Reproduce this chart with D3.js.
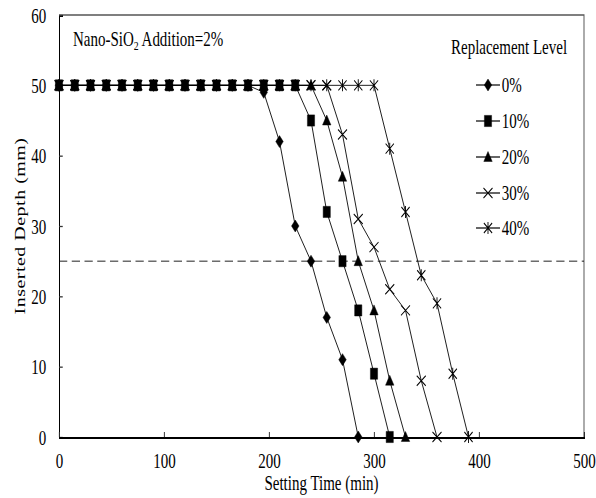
<!DOCTYPE html>
<html>
<head>
<meta charset="utf-8">
<script src="https://cdn.jsdelivr.net/npm/d3@7"></script>
<style>
  body { margin: 0; background: #fff; }
  text { font-family: "Liberation Serif", "Times New Roman", serif; fill: #000; }
</style>
</head>
<body>
<svg id="chart"></svg>
<script>
// Data (setting time in min, inserted depth in mm)
const levels = ["0%", "10%", "20%", "30%", "40%"];
const markers = ["diamond", "square", "triangle", "cross", "asterisk"];

const time0 = [0, 15, 30, 45, 60, 75, 90, 105, 120, 135, 150, 165, 180, 195, 210, 225, 240, 255, 270, 285];
const depth0 = [50, 50, 50, 50, 50, 50, 50, 50, 50, 50, 50, 50, 50, 49, 42, 30, 25, 17, 11, 0];

const time10 = [0, 15, 30, 45, 60, 75, 90, 105, 120, 135, 150, 165, 180, 195, 210, 225, 240, 255, 270, 285, 300, 315];
const depth10 = [50, 50, 50, 50, 50, 50, 50, 50, 50, 50, 50, 50, 50, 50, 50, 50, 45, 32, 25, 18, 9, 0];

const time20 = [0, 15, 30, 45, 60, 75, 90, 105, 120, 135, 150, 165, 180, 195, 210, 225, 240, 255, 270, 285, 300, 315, 330];
const depth20 = [50, 50, 50, 50, 50, 50, 50, 50, 50, 50, 50, 50, 50, 50, 50, 50, 50, 45, 37, 25, 18, 8, 0];

const time30 = [0, 15, 30, 45, 60, 75, 90, 105, 120, 135, 150, 165, 180, 195, 210, 225, 240, 255, 270, 285, 300, 315, 330, 345, 360];
const depth30 = [50, 50, 50, 50, 50, 50, 50, 50, 50, 50, 50, 50, 50, 50, 50, 50, 50, 50, 43, 31, 27, 21, 18, 8, 0];

const time40 = [0, 15, 30, 45, 60, 75, 90, 105, 120, 135, 150, 165, 180, 195, 210, 225, 240, 255, 270, 285, 300, 315, 330, 345, 360, 375, 390];
const depth40 = [50, 50, 50, 50, 50, 50, 50, 50, 50, 50, 50, 50, 50, 50, 50, 50, 50, 50, 50, 50, 50, 41, 32, 23, 19, 9, 0];

const xTicks = [0, 100, 200, 300, 400, 500];
const yTicks = [0, 10, 20, 30, 40, 50, 60];
const threshold = 25;

const seriesTimes = [time0, time10, time20, time30, time40];
const seriesDepths = [depth0, depth10, depth20, depth30, depth40];

// the original figure is squeezed horizontally, so draw wide and scale x
const width = 596, height = 498;
const sx = 0.75;
const fs = 20;

const svg = d3.select("#chart")
  .attr("width", width)
  .attr("height", height);

const g = svg.append("g").attr("transform", `scale(${sx},1)`);

const x = d3.scaleLinear().domain([0, 500]).range([59 / sx, 584 / sx]);
const y = d3.scaleLinear().domain([0, 60]).range([437, 15]);

// marker shapes (in unscaled coordinates)
const shapes = {
  diamond: "M0,-6L5,0L0,6L-5,0Z",
  square: "M-4.8,-5.6H4.8V5.6H-4.8Z",
  triangle: "M0,-5.5L5.6,4.5H-5.6Z",
  cross: "M-6,-5L6,5M-6,5L6,-5",
  asterisk: "M-5.5,-5L5.5,5M-5.5,5L5.5,-5M0,-6V6"
};
function drawMarker(sel, type) {
  const filled = type === "diamond" || type === "square" || type === "triangle";
  sel.append("path")
    .attr("d", shapes[type])
    .attr("fill", filled ? "#000" : "none")
    .attr("stroke", "#000")
    .attr("stroke-width", filled ? 0.5 : 1.2);
}

// frame (top/right thin grey)
g.append("path")
  .attr("d", `M${x(0)},${y(60)}H${x(500)}V${y(0)}`)
  .attr("fill", "none")
  .attr("stroke", "#555")
  .attr("stroke-width", 1.3);

// axes
const yAxis = d3.axisLeft(y).tickValues(yTicks).tickSize(-5).tickPadding(17);
const gy = g.append("g").attr("transform", `translate(${x(0)},0)`).call(yAxis);
gy.select(".domain").attr("stroke", "#000").attr("stroke-width", 2);
gy.selectAll(".tick line").attr("stroke", "#333").attr("stroke-width", 1.3);
gy.selectAll(".tick text").attr("font-size", fs).attr("font-family", null).attr("dy", "0.35em");

const xAxis = d3.axisBottom(x).tickValues(xTicks).tickSize(-5).tickPadding(17);
const gx = g.append("g").attr("transform", `translate(0,${y(0)})`).call(xAxis);
gx.select(".domain").attr("stroke", "#000").attr("stroke-width", 2);
gx.selectAll(".tick line").attr("stroke", "#333").attr("stroke-width", 1.3);
gx.selectAll(".tick text").attr("font-size", fs).attr("font-family", null);
svg.selectAll(".domain").attr("shape-rendering", "crispEdges");

// axis titles
g.append("text")
  .attr("x", x(250)).attr("y", 490)
  .attr("text-anchor", "middle")
  .attr("font-size", fs)
  .text("Setting Time (min)");

g.append("text")
  .attr("transform", `translate(${25 / sx},${y(30)}) rotate(-90)`)
  .attr("text-anchor", "middle")
  .attr("font-size", fs)
  .attr("letter-spacing", 0.5)
  .text("Inserted Depth (mm)");

// reference line at 25 mm
g.append("line")
  .attr("x1", x(0)).attr("x2", x(500))
  .attr("y1", y(threshold)).attr("y2", y(threshold))
  .attr("stroke", "#000")
  .attr("stroke-width", 1)
  .attr("stroke-dasharray", "11,6");

// series
const line = d3.line().x(d => x(d[0])).y(d => y(d[1]));
levels.forEach((lv, i) => {
  const pts = seriesTimes[i].map((t, j) => [t, seriesDepths[i][j]]);
  g.append("path")
    .datum(pts)
    .attr("d", line)
    .attr("fill", "none")
    .attr("stroke", "#000")
    .attr("stroke-width", 1);
  g.append("g").selectAll("g")
    .data(pts)
    .enter().append("g")
    .attr("transform", d => `translate(${x(d[0])},${y(d[1])})`)
    .each(function() { drawMarker(d3.select(this), markers[i]); });
});

// annotation
const note = g.append("text")
  .attr("x", 73 / sx).attr("y", 46)
  .attr("font-size", fs);
note.append("tspan").text("Nano-SiO");
note.append("tspan").attr("dy", 4).attr("font-size", 13).text("2");
note.append("tspan").attr("dy", -4).text(" Addition=2%");

// legend
g.append("text")
  .attr("x", 451 / sx).attr("y", 54)
  .attr("font-size", fs)
  .text("Replacement Level");

const legendY = [85, 121, 157, 193, 228];
levels.forEach((lv, i) => {
  const row = g.append("g").attr("transform", `translate(${488 / sx},${legendY[i]})`);
  row.append("line")
    .attr("x1", -16).attr("x2", 16)
    .attr("stroke", "#000").attr("stroke-width", 1.2);
  drawMarker(row, markers[i]);
  row.append("text")
    .attr("x", 18.5).attr("y", 7)
    .attr("font-size", fs)
    .text(lv);
});
</script>
</body>
</html>
